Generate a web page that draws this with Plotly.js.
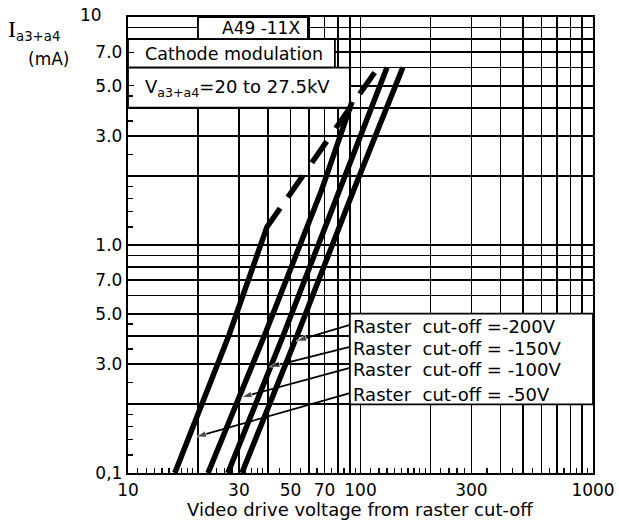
<!DOCTYPE html>
<html>
<head>
<meta charset="utf-8">
<script src="https://cdn.plot.ly/plotly-3.0.1.min.js"></script>
<style>html,body{margin:0;padding:0;background:#fff;}#chart{width:619px;height:522px;}</style>
</head>
<body>
<div id="chart"></div>
<script>
// ---- data (video drive voltage V, beam current mA) ----
const curveNames = ['-50V', '-100V', '-150V', '-200V'];
const curve50x  = [15.9, 27.2, 39.6, 45.1];
const curve50y  = [0.1, 0.403, 1.2, 1.45];
const curve100x = [22.1, 38.7, 68.0, 91.9];
const curve100y = [0.1, 0.403, 1.74, 4.24];
const curve150x = [26.9, 46.6, 81.2, 130];
const curve150y = [0.1, 0.403, 1.74, 6.0];
const curve200x = [30.9, 53.5, 93.4, 152];
const curve200y = [0.1, 0.403, 1.74, 6.0];
const limitX = [48.7, 119];
const limitY = [1.62, 6.0];

// legend labels and leader lines (head on curve, tail at label)
const legendLabels = ['Raster  cut-off =-200V', 'Raster  cut-off = -150V', 'Raster  cut-off = -100V', 'Raster  cut-off = -50V'];
const legendTextY = [0.44, 0.352, 0.285, 0.222];
const leaderHeadX = [52.8, 40.6, 30.8, 19.6];
const leaderHeadY = [0.379, 0.292, 0.215, 0.144];
const leaderTailX = [90, 90, 90, 90];
const leaderTailY = [0.446, 0.357, 0.289, 0.224];

// axis ticks
const xGrid = [10,20,30,40,50,60,70,80,90,100,200,300,400,500,600,700,800,900,1000];
const xGridText = ['10','','30','','50','','70','','','100','','300','','','','','','','1000'];
const xMinor = [11,12,13,14,15,16,17,18,19,22,24,26,28,32,34,36,38,45,55,65,75,85,95,
                110,120,130,140,150,160,170,180,190,220,240,260,280,350,450,550,650,750,850,950];
const yGrid = [0.1,0.2,0.3,0.4,0.5,0.6,0.7,0.8,0.9,1,2,3,4,5,6,7,8,9,10];
const yGridText = ['0,1','','3.0','','5.0','','7.0','','','1.0','','3.0','','5.0','','7.0','','',''];
const yMinor = [0.12,0.14,0.16,0.18,0.25,0.35,0.45,1.2,1.4,1.6,1.8,2.5,3.5,4.5];

// text boxes (white areas) in data coordinates
const boxes = [
  {x0: 20, x1: 59.4, y0: 8, y1: 10},
  {x0: 10, x1: 77.6, y0: 6, y1: 8},
  {x0: 10, x1: 90,   y0: 4, y1: 6},
  {x0: 90, x1: 1000, y0: 0.2, y1: 0.5}
];

const FONT = 'DejaVu Sans, Arial, sans-serif';
const L = Math.log10;

const traces = [];
boxes.forEach(b => {
  traces.push({
    x: [b.x0, b.x1, b.x1, b.x0, b.x0], y: [b.y0, b.y0, b.y1, b.y1, b.y0],
    mode: 'lines', fill: 'toself', fillcolor: '#ffffff',
    line: {color: '#000', width: 1.8}, hoverinfo: 'skip', showlegend: false
  });
});
[[curve50x, curve50y], [curve100x, curve100y], [curve150x, curve150y], [curve200x, curve200y]].forEach((c, i) => {
  traces.push({x: c[0], y: c[1], name: curveNames[i], mode: 'lines',
    line: {color: '#000', width: 5.5}, hoverinfo: 'skip', showlegend: false});
});
traces.push({x: limitX, y: limitY, mode: 'lines',
  line: {color: '#000', width: 5.5, dash: '26px,16px'}, hoverinfo: 'skip', showlegend: false});
legendLabels.forEach((t, i) => {
  traces.push({x: [leaderTailX[i], leaderHeadX[i]], y: [leaderTailY[i], leaderHeadY[i]],
    mode: 'lines+markers', line: {color: '#000', width: 1.8},
    marker: {symbol: ['circle', 'arrow'], size: [0, 11], angleref: 'previous', color: '#000'},
    hoverinfo: 'skip', showlegend: false});
});

const annotations = [];
legendLabels.forEach((t, i) => {
  annotations.push({x: L(90.8), y: L(legendTextY[i]), xref: 'x', yref: 'y', text: t,
    showarrow: false, xanchor: 'left', yanchor: 'middle', font: {family: FONT, size: 18, color: '#000'}});
});
annotations.push({x: L(37.4), y: 0.952, xref: 'x', yref: 'y', text: 'A49 -11X', showarrow: false,
  xanchor: 'center', yanchor: 'middle', font: {family: FONT, size: 17, color: '#000'}});
annotations.push({x: L(11.6), y: 0.838, xref: 'x', yref: 'y', text: 'Cathode modulation', showarrow: false,
  xanchor: 'left', yanchor: 'middle', font: {family: FONT, size: 17.5, color: '#000'}});
annotations.push({x: L(11.6), y: 0.69, xref: 'x', yref: 'y', text: 'V<sub>a3+a4</sub>=20 to 27.5kV', showarrow: false,
  xanchor: 'left', yanchor: 'middle', font: {family: FONT, size: 18, color: '#000'}});
annotations.push({x: 0, y: 1, xref: 'paper', yref: 'y', text: '10', showarrow: false,
  xanchor: 'right', yanchor: 'middle', xshift: -24, yshift: 2, font: {family: FONT, size: 17, color: '#000'}});
annotations.push({x: -0.262, y: 0.972, xref: 'paper', yref: 'paper',
  text: '<span style="font-family:Liberation Serif,serif;font-size:24px">I</span><sub>a3+a4</sub>',
  showarrow: false, xanchor: 'left', yanchor: 'middle', font: {family: FONT, size: 19, color: '#000'}});
annotations.push({x: -0.22, y: 0.908, xref: 'paper', yref: 'paper', text: '(mA)', showarrow: false,
  xanchor: 'left', yanchor: 'middle', font: {family: FONT, size: 17, color: '#000'}});
annotations.push({x: 0.499, y: -0.081, xref: 'paper', yref: 'paper', text: 'Video drive voltage from raster cut-off',
  showarrow: false, xanchor: 'center', yanchor: 'middle', font: {family: FONT, size: 18, color: '#000'}});

const layout = {
  width: 619, height: 522,
  margin: {l: 128, r: 26, t: 17, b: 49},
  paper_bgcolor: '#fff', plot_bgcolor: '#fff',
  showlegend: false,
  font: {family: FONT, size: 17, color: '#000'},
  xaxis: {
    type: 'log', range: [1, 3], fixedrange: true,
    tickmode: 'array', tickvals: xGrid, ticktext: xGridText, tickangle: 0,
    ticks: 'inside', ticklen: 6, tickwidth: 1.5, tickcolor: '#000',
    showgrid: true, gridcolor: '#000', gridwidth: 1.8,
    showline: true, linecolor: '#000', linewidth: 2.2, mirror: true, zeroline: false,
    tickfont: {family: FONT, size: 17, color: '#000'},
    minor: {tickmode: 'array', tickvals: xMinor, ticks: 'inside', ticklen: 5, tickwidth: 1.2, tickcolor: '#000', showgrid: false}
  },
  yaxis: {
    type: 'log', range: [-1, 1], fixedrange: true,
    tickmode: 'array', tickvals: yGrid, ticktext: yGridText,
    ticks: 'inside', ticklen: 6, tickwidth: 1.5, tickcolor: '#000',
    showgrid: true, gridcolor: '#000', gridwidth: 1.8,
    showline: true, linecolor: '#000', linewidth: 2.2, mirror: true, zeroline: false,
    tickfont: {family: FONT, size: 17, color: '#000'},
    minor: {tickmode: 'array', tickvals: yMinor, ticks: 'inside', ticklen: 5, tickwidth: 1.2, tickcolor: '#000', showgrid: false}
  },
  annotations: annotations
};

Plotly.newPlot('chart', traces, layout, {staticPlot: true, displayModeBar: false});
</script>
</body>
</html>
